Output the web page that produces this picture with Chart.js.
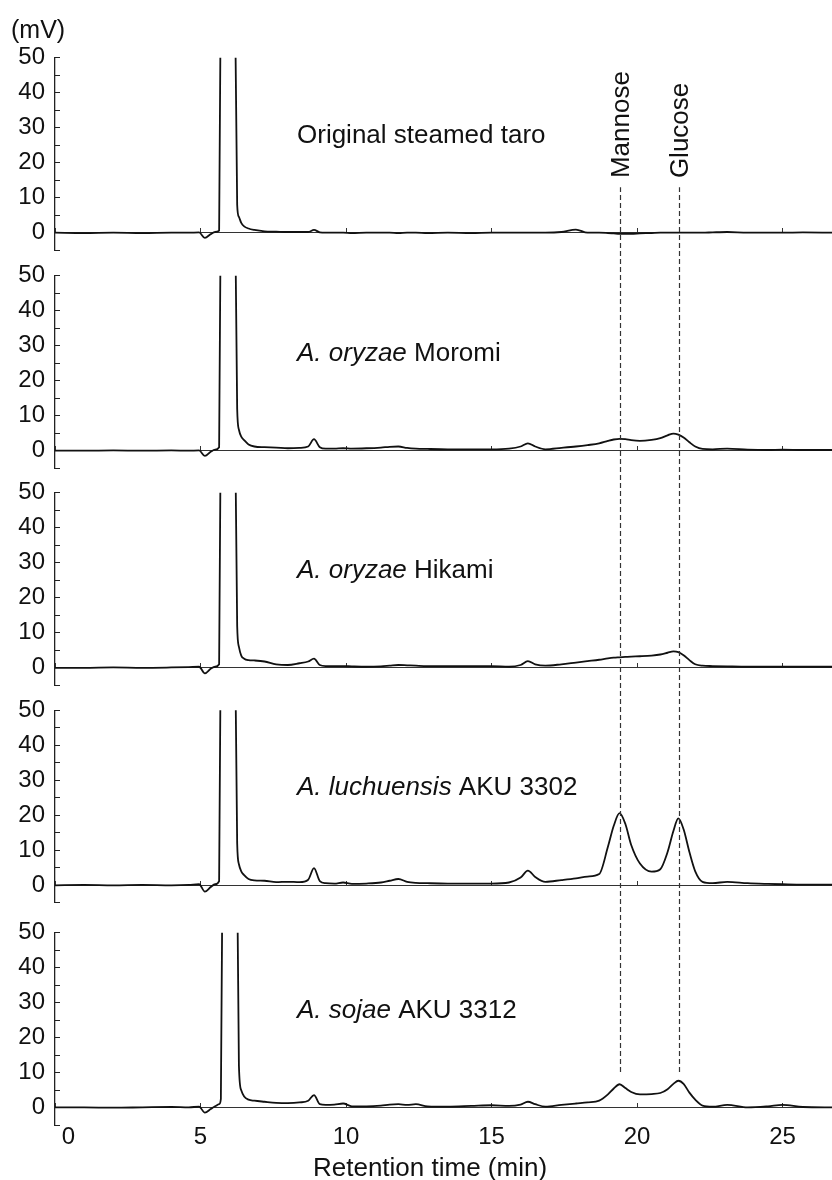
<!DOCTYPE html>
<html>
<head>
<meta charset="utf-8">
<script src="https://cdn.jsdelivr.net/npm/chart.js@4.4.1/dist/chart.umd.min.js"></script>
<style>
  body { margin: 0; background: #fff; }
  #figura { position: relative; width: 832px; height: 1180px; overflow: hidden; }
  #figura canvas { position: absolute; left: 0; }
</style>
</head>
<body>
<div id="figura"></div>
<script>
// tempo de retenção (min), comum a todos os cromatogramas
const tempos = [
  0, 1, 2, 3, 4, 4.6, 4.95, 5.15, 5.35, 5.5,
  5.64, 5.7, 5.76, 6.0, 6.2, 6.26, 6.32, 6.4, 6.5, 6.65,
  6.85, 7.2, 7.6, 8.0, 8.4, 8.7, 8.9, 9.1, 9.3, 9.6,
  9.9, 10.2, 10.7, 11.2, 11.5, 11.8, 12.1, 12.4, 12.8, 13.5,
  14.3, 15.0, 15.6, 16.0, 16.25, 16.5, 16.85, 17.4, 17.9, 18.3,
  18.7, 19.0, 19.2, 19.4, 19.6, 19.8, 20.1, 20.5, 20.8, 21.05,
  21.25, 21.42, 21.6, 21.8, 22.0, 22.25, 22.6, 23.1, 23.8, 24.5,
  25.0, 25.7, 26.7
];

// sinal (mV) de cada amostra
const taro = [
  0, -0.1, 0, -0.1, 0, 0, 0.1, -1.5, -0.4, 0.2,
  0.6, 80, 200, 400, 55, 8, 4.5, 2.8, 1.8, 1.2,
  0.8, 0.4, 0.3, 0.2, 0.2, 0.2, 0.8, 0.1, 0, 0,
  0, -0.1, 0, 0, 0, -0.1, 0, 0, -0.1, 0,
  -0.1, 0, 0, 0, 0, 0, 0, 0.2, 0.9, 0,
  0, -0.1, -0.2, -0.3, -0.3, -0.3, -0.2, -0.1, 0, 0,
  0, 0, 0, 0, 0, 0, 0.1, 0.2, 0, 0,
  0, 0.1, 0
];
const moromi = [
  0, 0, 0.1, 0, 0.1, 0, 0.1, -1.5, -0.3, 0.3,
  1, 80, 200, 400, 60, 12, 6, 4, 3, 1.8,
  1.2, 1.0, 0.9, 0.7, 0.8, 1.2, 3.3, 1.0, 0.6, 0.6,
  0.7, 0.6, 0.7, 0.9, 1.1, 1.2, 0.8, 0.6, 0.5, 0.4,
  0.4, 0.4, 0.6, 1.2, 2.1, 1.2, 0.4, 0.8, 1.2, 1.6,
  2.1, 2.8, 3.2, 3.4, 3.3, 3.0, 2.8, 3.1, 3.6, 4.4,
  4.9, 4.6, 3.8, 2.4, 1.2, 0.5, 0.4, 0.6, 0.3, 0.2,
  0.3, 0.2, 0.2
];
const hikami = [
  0, 0, 0.1, 0, 0.1, 0.2, 0.3, -1.6, -0.3, 0.3,
  1, 80, 200, 400, 60, 12, 6, 3.5, 2.6, 2.2,
  2.1, 1.8, 1.0, 0.8, 1.3, 1.8, 2.6, 0.8, 0.5, 0.5,
  0.5, 0.4, 0.3, 0.4, 0.6, 0.8, 0.7, 0.6, 0.5, 0.5,
  0.5, 0.5, 0.3, 0.8, 1.9, 1.0, 0.6, 1.0, 1.5, 1.9,
  2.3, 2.7, 2.9, 3.0, 3.1, 3.2, 3.3, 3.5, 3.8, 4.3,
  4.7, 4.5, 3.6, 2.2, 1.0, 0.6, 0.5, 0.4, 0.3, 0.3,
  0.3, 0.3, 0.3
];
const luchuensis = [
  0, 0.1, 0, 0.1, 0, 0.1, 0.3, -1.8, -0.5, 0.3,
  1.2, 80, 200, 400, 60, 12, 6, 4, 2.9, 1.8,
  1.4, 1.3, 0.9, 1.0, 0.9, 1.6, 4.9, 1.2, 0.6, 0.5,
  0.8, 0.4, 0.5, 0.8, 1.3, 1.8, 1.0, 0.7, 0.6, 0.5,
  0.5, 0.5, 0.8, 2.2, 4.2, 2.4, 1.0, 1.5, 2.0, 2.5,
  3.2, 11, 17, 20.6, 17.5, 11.5, 6.2, 3.9, 4.6, 9.5,
  15.5, 19.1, 16, 9.5, 4, 1.0, 0.6, 1.0, 0.6, 0.4,
  0.3, 0.2, 0.2
];
const sojae = [
  0.1, 0.1, 0, 0.1, 0.2, 0.1, 0.3, -1.4, -0.4, 0.4,
  1.0, 2.5, 80, 400, 150, 70, 12, 5, 3.2, 2.3,
  2.0, 1.7, 1.4, 1.3, 1.5, 2.0, 3.6, 1.0, 0.8, 0.9,
  1.2, 0.4, 0.4, 0.6, 0.9, 1.0, 0.8, 1.0, 0.4, 0.3,
  0.5, 0.7, 0.5, 0.9, 1.7, 1.0, 0.3, 0.8, 1.2, 1.5,
  2.0, 3.8, 5.5, 6.7, 5.6, 4.5, 3.8, 3.9, 4.2, 5.3,
  6.8, 7.7, 6.8, 4.3, 2.3, 0.6, 0.3, 0.8, 0.1, 0.4,
  0.8, 0.2, 0.1
];

const series = [taro, moromi, hikami, luchuensis, sojae];
const rotulosItalico = ['', 'A. oryzae', 'A. oryzae', 'A. luchuensis', 'A. sojae'];
const rotulosTexto = ['Original steamed taro', ' Moromi', ' Hikami', ' AKU 3302', ' AKU 3312'];

const picos = [19.4, 21.45];
const nomesPicos = ['Mannose', 'Glucose'];

const ticksX = [0, 5, 10, 15, 20, 25];
const ticksY = [-5, 0, 5, 10, 15, 20, 25, 30, 35, 40, 45, 50];

// posição (px) da linha do zero de cada painel
const zeros = [232.7, 450.7, 667.8, 885.3, 1107.7];
const fonte = '"Liberation Sans", Arial, Helvetica, sans-serif';
const PX_POR_MV = 3.5;

const figura = document.getElementById('figura');

const limites = [0];
zeros.slice(0, -1).forEach((z) => limites.push(Math.round(z + 23.5)));
limites.push(1180);

const anotacoes = {
  id: 'anotacoes',
  afterDatasetsDraw(grafico, args, opts) {
    const {ctx, scales: {x, y}} = grafico;
    const i = opts.indice;
    ctx.save();

    // linhas tracejadas de manose e glicose
    const yIni = i === 0 ? y.getPixelForValue(13) : 0;
    const yFim = i === 4 ? y.getPixelForValue(9.4) : grafico.height;
    ctx.strokeStyle = '#333';
    ctx.lineWidth = 1.2;
    ctx.setLineDash([5, 3]);
    ctx.lineDashOffset = (((opts.topo + yIni - 187) % 8) + 8) % 8;
    picos.forEach((p) => {
      const px = Math.round(x.getPixelForValue(p)) + 0.5;
      ctx.beginPath();
      ctx.moveTo(px, yIni);
      ctx.lineTo(px, yFim);
      ctx.stroke();
    });
    ctx.setLineDash([]);

    // nome da amostra
    ctx.fillStyle = '#111';
    ctx.textAlign = 'left';
    ctx.textBaseline = 'alphabetic';
    let px = 297;
    const base = y.getPixelForValue(0) - 90;
    if (rotulosItalico[i]) {
      ctx.font = 'italic 26px ' + fonte;
      ctx.fillText(rotulosItalico[i], px, base);
      px += ctx.measureText(rotulosItalico[i]).width;
    }
    ctx.font = '26px ' + fonte;
    ctx.fillText(rotulosTexto[i], px, base);

    if (i === 0) {
      ctx.font = '25px ' + fonte;
      ctx.fillText('(mV)', 11, 37.5);
      ctx.font = '26px ' + fonte;
      picos.forEach((p, k) => {
        ctx.save();
        ctx.translate(x.getPixelForValue(p) + 9, y.getPixelForValue(15.6));
        ctx.rotate(-Math.PI / 2);
        ctx.fillText(nomesPicos[k], 0, 0);
        ctx.restore();
      });
    }
    if (i === 4) {
      ctx.font = '26px ' + fonte;
      ctx.textAlign = 'center';
      ctx.fillText('Retention time (min)', 430, 1176 - opts.topo);
    }
    ctx.restore();
  }
};

function criaPainel(i) {
  const topo = limites[i];
  const altura = limites[i + 1] - topo;
  const canvas = document.createElement('canvas');
  canvas.width = 832;
  canvas.height = altura;
  canvas.style.top = topo + 'px';
  canvas.style.width = '832px';
  canvas.style.height = altura + 'px';
  figura.appendChild(canvas);

  const z = zeros[i];
  const ultimo = i === zeros.length - 1;

  return new Chart(canvas, {
    type: 'line',
    data: {
      datasets: [{
        data: tempos.map((t, k) => ({x: t, y: series[i][k]})),
        borderColor: '#111',
        borderWidth: 1.8,
        pointRadius: 0,
        fill: false,
        cubicInterpolationMode: 'monotone'
      }]
    },
    options: {
      responsive: false,
      animation: false,
      events: [],
      layout: {
        padding: {
          top: z - 50 * PX_POR_MV - topo,
          bottom: topo + altura - (z + 5 * PX_POR_MV),
          left: 0,
          right: 0
        }
      },
      plugins: {
        legend: {display: false},
        tooltip: {enabled: false},
        anotacoes: {indice: i, topo: topo}
      },
      scales: {
        x: {
          type: 'linear',
          min: 0,
          max: 26.7,
          position: {y: 0},
          afterBuildTicks: (s) => { s.ticks = ticksX.map((v) => ({value: v})); },
          afterFit: (s) => { s.paddingLeft = 0; s.paddingRight = 0; },
          border: {color: '#333', width: 1},
          grid: {drawOnChartArea: false, drawTicks: true, tickLength: -5, color: '#333', lineWidth: 1},
          ticks: {
            display: ultimo,
            autoSkip: false,
            maxRotation: 0,
            padding: 20,
            color: '#111',
            font: {family: fonte, size: 24},
            callback: (v) => (v === 0 ? '\u2007\u20070' : String(v))
          }
        },
        y: {
          min: -5,
          max: 50,
          afterBuildTicks: (s) => { s.ticks = ticksY.map((v) => ({value: v})); },
          afterFit: (s) => { s.width = 55; s.paddingTop = 0; s.paddingBottom = 0; },
          border: {color: '#222', width: 1.3},
          grid: {drawOnChartArea: false, drawTicks: true, tickLength: -5, color: '#222', lineWidth: 1},
          ticks: {
            autoSkip: false,
            padding: 15,
            color: '#111',
            font: {family: fonte, size: 24},
            callback: (v) => (v >= 0 && v % 10 === 0 ? String(v) : '')
          }
        }
      }
    },
    plugins: [anotacoes]
  });
}

zeros.forEach((z, i) => criaPainel(i));
</script>
</body>
</html>
